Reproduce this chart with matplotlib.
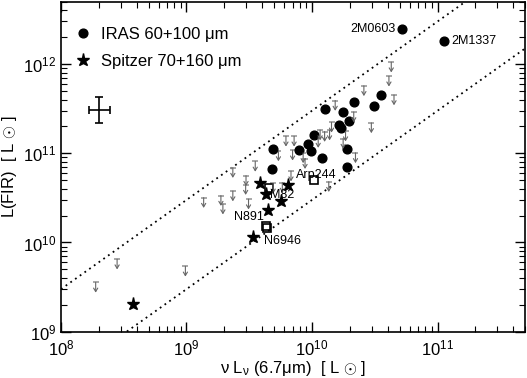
import matplotlib
matplotlib.use("Agg")
import matplotlib.pyplot as plt
import numpy as np

plt.rcParams['font.family'] = ['Liberation Sans', 'DejaVu Sans']
plt.rcParams['mathtext.fontset'] = 'custom'
plt.rcParams['mathtext.rm'] = 'Liberation Sans'
plt.rcParams['mathtext.it'] = 'Liberation Sans'

# IRAS 60+100 um detections
iras_x = [5.2e10, 1.12e11, 1.27e10, 1.76e10, 2.16e10, 3.52e10, 3.10e10, 1.98e10, 1.63e10,
          1.70e10, 1.04e10, 9.35e9, 7.85e9, 9.78e9, 1.21e10, 1.91e10, 1.91e10, 4.93e9, 4.82e9]
iras_y = [2.45e12, 1.82e12, 3.14e11, 2.91e11, 3.77e11, 4.48e11, 3.37e11, 2.29e11, 2.07e11,
          1.90e11, 1.61e11, 1.26e11, 1.09e11, 1.06e11, 8.81e10, 1.13e11, 6.93e10, 1.11e11, 6.59e10]

# Spitzer 70+160 um
spz_x = [3.82e9, 4.30e9, 6.40e9, 5.66e9, 4.42e9, 3.36e9, 3.77e8]
spz_y = [4.67e10, 3.53e10, 4.42e10, 2.88e10, 2.32e10, 1.14e10, 2.03e9]

# open squares (nearby galaxies)
sq_x = [4.56e9, 1.03e10, 4.30e9, 4.36e9]
sq_y = [4.12e10, 5.0e10, 1.55e10, 1.45e10]

# upper limits
ul_x = [4.28e10, 4.10e10, 2.59e10, 4.5e10, 1.53e10, 2.15e10, 2.97e10, 1.43e10, 1.16e10, 1.26e10,
        1.38e10, 1.85e10, 6.2e9, 7.2e9, 1.12e10, 1.77e10, 5.4e9, 7.0e9, 8.5e9, 8.8e9,
        2.22e10, 3.53e9, 2.34e9, 6.8e9, 2.98e9, 2.96e9, 1.36e10, 1.88e9, 1.95e9, 2.34e9,
        3.12e9, 1.37e9, 2.8e8, 1.89e8, 9.8e8, 4.9e9, 5.8e9]
ul_y = [1.05e12, 7.3e11, 5.7e11, 4.5e11, 3.9e11, 2.9e11, 2.19e11, 2.22e11, 1.82e11, 1.75e11,
        1.82e11, 1.77e11, 1.55e11, 1.55e11, 1.50e11, 1.46e11, 1.06e11, 1.08e11, 1.01e11, 8.7e10,
        1.01e11, 8.1e10, 6.9e10, 6.3e10, 5.6e10, 4.45e10, 4.8e10, 3.35e10, 2.69e10, 3.77e10,
        3.06e10, 3.18e10, 6.5e9, 3.57e9, 5.4e9, 4.6e10, 4.7e10]

# labels
lab_text = ['2M0603', '2M1337', 'Arp244', 'M82', 'N891', 'N6946']
lab_x = [4.6e10, 1.28e11, 7.4e9, 4.6e9, 2.4e9, 4.15e9]
lab_y = [2.45e12, 1.82e12, 5.7e10, 3.45e10, 1.95e10, 1.05e10]
lab_ha = ['right', 'left', 'left', 'left', 'left', 'left']

# L(FIR) / nuLnu ratio of dotted lines
ratios = [30, 3]

fig = plt.figure(figsize=(5.27, 3.78), dpi=100)
ax = fig.add_axes([0.1157, 0.1225, 0.881, 0.873])
ax.set_xscale('log')
ax.set_yscale('log')

xl = np.array([1e8, 5e11])
for r in ratios:
    ax.plot(xl, r * xl, color='black', lw=1.3, linestyle=(0, (1, 2.2)))

# upper limit arrows
for x, y in zip(ul_x, ul_y):
    ax.annotate('', xy=(x, y / 10**0.115), xytext=(x, y),
                arrowprops=dict(arrowstyle='->,head_length=0.25,head_width=0.15',
                                color='#666666', lw=0.8, shrinkA=0, shrinkB=0))
ax.plot(ul_x, ul_y, '_', color='#999999', markersize=4, mew=1.2)

ax.plot(iras_x, iras_y, 'o', color='black', markersize=6.3, label=u'IRAS 60+100 \u03bcm')
ax.plot(spz_x, spz_y, '*', color='black', markersize=9.5, label=u'Spitzer 70+160 \u03bcm')
ax.plot(sq_x, sq_y, 's', mfc='none', mec='black', mew=1.2, markersize=6)

for t, x, y, ha in zip(lab_text, lab_x, lab_y, lab_ha):
    ax.text(x, y, t, fontsize=9, ha=ha, va='center')

# typical error bar
ax.errorbar([2.02e8], [3.04e11], xerr=[[2.02e8 - 2.02e8 / 1.21], [2.02e8 * 0.21]],
            yerr=[[3.04e11 - 3.04e11 / 1.40], [3.04e11 * 0.40]],
            fmt='none', ecolor='black', elinewidth=1.2, capsize=3, capthick=1.2)

ax.set_xlim(1e8, 5e11)
ax.set_ylim(1e9, 5e12)
ax.tick_params(which='both', direction='in', top=True, right=True, labelsize=12)
ax.tick_params(which='major', length=7, width=1)
ax.tick_params(which='minor', length=4, width=0.8)
ax.tick_params(axis='x', pad=5)
ax.set_xlabel(r'$\nu$ L$_\nu$ (6.7$\mu$m)  [ L $\odot$ ]', fontsize=12, labelpad=0)
ax.set_ylabel(r'L(FIR)  [ L $\odot$ ]', fontsize=12, labelpad=3)
for s in ax.spines.values():
    s.set_linewidth(1.2)

ax.legend(loc='upper left', bbox_to_anchor=(0.0, 0.96), frameon=False, fontsize=12,
          handletextpad=0.4, borderaxespad=0.3, labelspacing=0.75, handlelength=1.3)

fig.savefig('out.png', dpi=100)
